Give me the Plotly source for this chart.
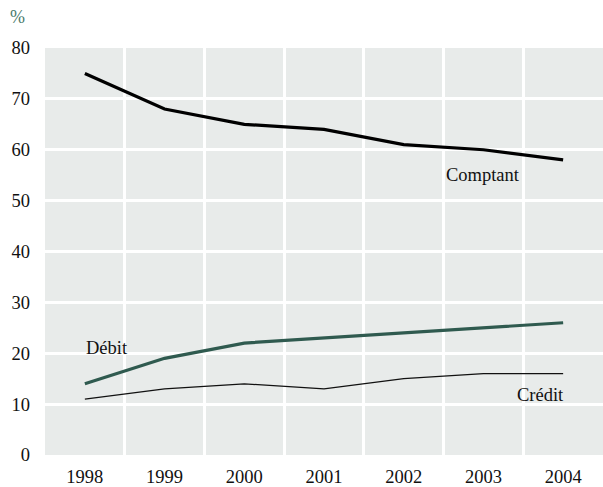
import plotly.graph_objects as go

years = [1998, 1999, 2000, 2001, 2002, 2003, 2004]
comptant = [75, 68, 65, 64, 61, 60, 58]
debit = [14, 19, 22, 23, 24, 25, 26]
credit = [11, 13, 14, 13, 15, 16, 16]

# series labels placed inside the plot (x, y in data units)
label_text = ["Comptant", "Débit", "Crédit"]
label_x = [2003.0, 1998.28, 2003.72]
label_y = [55.0, 21.0, 11.8]

FONT = "Liberation Serif"

fig = go.Figure()
fig.add_trace(go.Scatter(x=years, y=credit, mode="lines",
                         line=dict(color="#111111", width=1.2), name="Crédit"))
fig.add_trace(go.Scatter(x=years, y=debit, mode="lines",
                         line=dict(color="#2f5a4f", width=3.2), name="Débit"))
fig.add_trace(go.Scatter(x=years, y=comptant, mode="lines",
                         line=dict(color="#000000", width=3.2), name="Comptant"))

for t, x, y in zip(label_text, label_x, label_y):
    fig.add_annotation(x=x, y=y, text=t, showarrow=False,
                       font=dict(family=FONT, size=18.5, color="#111111"))

fig.add_annotation(x=-0.066, y=1.076, xref="paper", yref="paper",
                   xanchor="left", yanchor="middle", text="%", showarrow=False,
                   font=dict(family=FONT, size=18, color="#4a7a6c"))

fig.update_layout(
    width=603,
    height=487,
    showlegend=False,
    paper_bgcolor="white",
    plot_bgcolor="#e8ebea",
    margin=dict(l=45, r=0, t=48, b=32, autoexpand=False),
    font=dict(family=FONT, size=18.5, color="#111111"),
    xaxis=dict(
        range=[1997.5, 2004.5],
        tickmode="array",
        tickvals=years,
        showgrid=False,
        zeroline=False,
        ticks="",
        automargin=False,
        ticklabelstandoff=8,
        minor=dict(tickmode="array",
                   tickvals=[y + 0.5 for y in years[:-1]],
                   showgrid=True, gridcolor="white", gridwidth=3),
    ),
    yaxis=dict(
        range=[0, 80],
        dtick=10,
        showgrid=True,
        gridcolor="white",
        gridwidth=3,
        zeroline=False,
        ticks="",
        automargin=False,
        ticklabelstandoff=14,
    ),
)

# the page body has a default 8px margin; drop it so the figure fills the window
fig.write_html("out.html", config={"displayModeBar": False},
               post_script="document.body.style.margin='0px';")
